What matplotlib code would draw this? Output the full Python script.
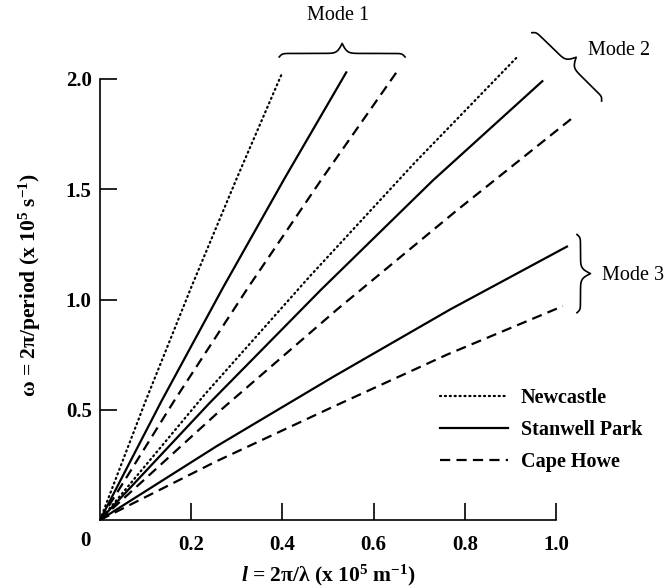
import numpy as np
import matplotlib
matplotlib.use('Agg')
import matplotlib.pyplot as plt
from matplotlib.lines import Line2D
from matplotlib.transforms import IdentityTransform

plt.rcParams['font.family'] = ['Liberation Serif', 'DejaVu Serif']
plt.rcParams['mathtext.fontset'] = 'custom'
plt.rcParams['mathtext.rm'] = 'Liberation Serif:bold'
plt.rcParams['mathtext.it'] = 'Liberation Serif:italic:bold'

# dispersion curves (l in 1e5 m^-1, omega in 1e5 s^-1)
# mode 1
nc1_l = [0, 0.10, 0.20, 0.30, 0.40]
nc1_w = [0, 0.54, 1.055, 1.55, 2.03]
sp1_l = [0, 0.135, 0.27, 0.405, 0.54]
sp1_w = [0, 0.54, 1.055, 1.55, 2.03]
ch1_l = [0, 0.1625, 0.325, 0.4875, 0.65]
ch1_w = [0, 0.54, 1.055, 1.55, 2.03]
# mode 2
nc2_l = [0, 0.23, 0.46, 0.69, 0.915]
nc2_w = [0, 0.57, 1.105, 1.62, 2.10]
sp2_l = [0, 0.24, 0.485, 0.73, 0.97]
sp2_w = [0, 0.53, 1.045, 1.54, 1.99]
ch2_l = [0, 0.26, 0.52, 0.78, 1.04]
ch2_w = [0, 0.49, 0.955, 1.40, 1.83]
# mode 3
sp3_l = [0, 0.256, 0.512, 0.768, 1.024]
sp3_w = [0, 0.335, 0.65, 0.955, 1.24]
ch3_l = [0, 0.254, 0.5075, 0.761, 1.015]
ch3_w = [0, 0.265, 0.51, 0.75, 0.97]

xticks = [0.2, 0.4, 0.6, 0.8, 1.0]
yticks = [0.5, 1.0, 1.5, 2.0]

dotted = dict(color='k', lw=1.6, linestyle=(0, (0.5, 1.7)), dash_capstyle='round')
solid = dict(color='k', lw=1.6, linestyle='-')
dashed = dict(color='k', lw=1.6, linestyle=(0, (4.6, 2.8)))

fig = plt.figure(figsize=(6.64, 5.88), dpi=100)
ax = fig.add_axes([100/664, 68/588, 564/664, 520/588])
ax.set_xlim(0, 564/456)
ax.set_ylim(0, 520/220.5)

ax.plot(nc1_l, nc1_w, **dotted)
ax.plot(sp1_l, sp1_w, **solid)
ax.plot(ch1_l, ch1_w, **dashed)
ax.plot(nc2_l, nc2_w, **dotted)
ax.plot(sp2_l, sp2_w, **solid)
ax.plot(ch2_l, ch2_w, **dashed)
ax.plot(sp3_l, sp3_w, **solid)
ax.plot(ch3_l, ch3_w, **dashed)

for s in ['top', 'right']:
    ax.spines[s].set_visible(False)
ax.spines['left'].set_bounds(0, 2.0)
ax.spines['bottom'].set_bounds(0, 1.0)
for s in ['left', 'bottom']:
    ax.spines[s].set_linewidth(1.2)

ax.set_xticks(xticks)
ax.set_xticklabels(['%.1f' % v for v in xticks])
ax.set_yticks(yticks)
ax.set_yticklabels(['%.1f' % v for v in yticks])
ax.tick_params(direction='in', length=12, width=1.2, labelsize=15)
ax.tick_params(axis='x', pad=11)
ax.tick_params(axis='y', pad=6)
for lab in ax.get_xticklabels() + ax.get_yticklabels():
    lab.set_fontweight('bold')
ax.text(-0.033, -0.05, '0', fontsize=15, fontweight='bold', ha='center', va='top')

fig.text(30/664, 1 - 285/588, 'ω = 2π/period (x 10$^{5}$ s$^{-1}$)', rotation=90,
         ha='center', va='center', fontsize=15.5, fontweight='bold')
fig.text(328/664, 1 - 575/588, '$\\mathit{l}$ = 2π/λ (x 10$^{5}$ m$^{-1}$)',
         ha='center', va='center', fontsize=15.5, fontweight='bold')

handles = [Line2D([], [], **dotted), Line2D([], [], **solid), Line2D([], [], **dashed)]
ax.legend(handles, ['Newcastle', 'Stanwell Park', 'Cape Howe'], loc='upper left',
          bbox_to_anchor=(0.7456, 0.60), bbox_transform=ax.transData, frameon=False,
          borderpad=0, borderaxespad=0, handlelength=3.4, handletextpad=0.6,
          labelspacing=0.6, prop={'size': 14.5, 'weight': 'bold'})


def brace(p0, p1, hook=3.5, tip=10, w1=1.5, w2=2.5):
    a = ax.transData.transform(p0)
    b = ax.transData.transform(p1)
    d = b - a
    L = np.hypot(*d)
    u = d / L
    n = np.array([-u[1], u[0]])
    half = L / 2
    t = np.linspace(0, half, 150)
    h = (2*hook / (1 + np.exp(-t / w1)) + 2*tip / (1 + np.exp(-(t - half) / w2)) - hook)
    tt = np.concatenate([t, L - t[::-1]])
    hh = np.concatenate([h, h[::-1]])
    pts = a + np.outer(tt, u) + np.outer(hh, n)
    ax.plot(pts[:, 0], pts[:, 1], color='k', lw=1.2, transform=IdentityTransform(),
            clip_on=False)


brace((0.393, 2.10), (0.669, 2.10))
brace((0.947, 2.21), (1.100, 1.90))
brace((1.046, 1.295), (1.046, 0.94))

ax.text(0.522, 2.29, 'Mode 1', ha='center', va='center', fontsize=14.5)
ax.text(1.070, 2.13, 'Mode 2', ha='left', va='center', fontsize=14.5)
ax.text(1.101, 1.111, 'Mode 3', ha='left', va='center', fontsize=14.5)

fig.savefig('out.png', dpi=100)
